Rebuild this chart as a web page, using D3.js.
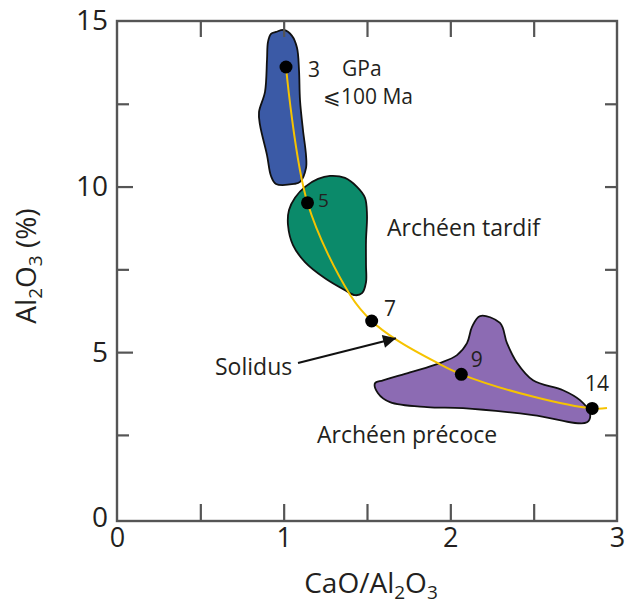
<!DOCTYPE html>
<html><head><meta charset="utf-8">
<script src="https://cdn.jsdelivr.net/npm/d3@7"></script>
<style>
body{margin:0;background:#fff;}
text{font-family:'Open Sans',sans-serif;fill:#231f20;}
</style>
</head><body>
<svg id="c" width="629" height="610"></svg>
<script>
// ---- data ----
const xTickLabels=[0,1,2,3];
const yTickLabels=[0,5,10,15];
const xMinorTicks=[0.5,1,1.5,2,2.5];
const yMinorTicks=[2.5,5,7.5,10,12.5];

const blueX=[0.954,1.002,1.050,1.080,1.092,1.098,1.116,1.134,1.134,1.098,1.062,0.954,0.924,0.900,0.858,0.852,0.888,0.900,0.906,0.924];
const blueY=[14.67,14.73,14.55,14.19,13.52,12.61,11.70,10.95,10.56,10.14,10.08,10.08,10.32,10.95,11.86,12.25,12.86,13.83,14.37,14.61];

const greenX=[1.278,1.368,1.440,1.488,1.500,1.494,1.494,1.494,1.470,1.428,1.368,1.248,1.128,1.056,1.026,1.032,1.068,1.128,1.206];
const greenY=[10.32,10.26,9.99,9.66,9.13,8.38,7.63,7.11,6.78,6.72,6.87,7.23,7.72,8.23,8.84,9.29,9.66,9.99,10.23];

const purpleX=[2.178,2.298,2.340,2.400,2.496,2.676,2.778,2.838,2.820,2.496,2.076,1.860,1.638,1.566,1.548,1.596,1.758,1.938,2.040,2.100,2.130];
const purpleY=[6.09,5.88,5.27,4.68,4.15,3.85,3.55,3.16,2.88,3.10,3.31,3.34,3.49,3.76,4.06,4.15,4.39,4.67,4.91,5.27,5.76];

const solidusX=[1.014,1.143,1.40,1.528,1.68,1.92,2.066,2.50,2.851,2.94];
const solidusY=[13.61,9.51,6.72,5.94,5.36,4.68,4.33,3.65,3.30,3.31];

const pressureX=[1.014,1.143,1.528,2.066,2.851];
const pressureY=[13.61,9.51,5.94,4.33,3.30];
const pressureLabels=["3","5","7","9","14"];
const pressureLabelX=[1.146,1.206,1.602,2.122,2.808];
const pressureLabelY=[13.31,9.37,6.09,4.55,3.82];

const noteTexts=["GPa","\u2A7D100 Ma","Solidus"];
const noteX=[1.35,1.236,0.588];
const noteY=[13.34,12.49,4.30];

const regionNames=["Archéen tardif","Archéen précoce"];
const regionLabelX=[1.62,1.20];
const regionLabelY=[8.51,2.25];

const arrowX=[1.086,1.674];
const arrowY=[4.67,5.42];

// ---- chart ----
const svg=d3.select("#c");
const x=d3.scaleLinear().domain([0,3]).range([117,617]);
const y=d3.scaleLinear().domain([-0.1,15]).range([521,21]);

svg.append("rect").attr("width",629).attr("height",610).attr("fill","#fff");

const defs=svg.append("defs");
defs.append("marker").attr("id","arr").attr("viewBox","0 0 10 10")
  .attr("refX",10).attr("refY",5).attr("markerWidth",8).attr("markerHeight",6.5)
  .attr("markerUnits","strokeWidth").attr("orient","auto")
  .append("path").attr("d","M0,0 L10,5 L0,10 z").attr("fill","#111");

// regions
const area=d3.line().x(d=>x(d[0])).y(d=>y(d[1])).curve(d3.curveCatmullRomClosed.alpha(0.5));
const regions=[
  {xs:blueX,ys:blueY,fill:"#3b5aa6"},
  {xs:greenX,ys:greenY,fill:"#0b8a6a"},
  {xs:purpleX,ys:purpleY,fill:"#8c6bb3"}
];
regions.forEach(r=>{
  svg.append("path").attr("d",area(r.xs.map((v,i)=>[v,r.ys[i]])))
    .attr("fill",r.fill).attr("stroke","#111").attr("stroke-width",1.8).attr("stroke-linejoin","round");
});

// solidus
const line=d3.line().x(d=>x(d[0])).y(d=>y(d[1])).curve(d3.curveCatmullRom.alpha(0.5));
svg.append("path").attr("d",line(solidusX.map((v,i)=>[v,solidusY[i]])))
  .attr("fill","none").attr("stroke","#f6c300").attr("stroke-width",2);

// points
svg.selectAll("circle.p").data(pressureX).enter().append("circle")
  .attr("cx",d=>x(d)).attr("cy",(d,i)=>y(pressureY[i])).attr("r",6.5).attr("fill","#000");

// point labels
svg.selectAll("text.pl").data(pressureLabels).enter().append("text")
  .attr("x",(d,i)=>x(pressureLabelX[i])).attr("y",(d,i)=>y(pressureLabelY[i]))
  .attr("font-size",(d,i)=>i===1?19:21).text(d=>d);

// notes
svg.selectAll("text.n").data(noteTexts).enter().append("text")
  .attr("x",(d,i)=>x(noteX[i])).attr("y",(d,i)=>y(noteY[i]))
  .attr("font-size",(d,i)=>i===2?23:21).text(d=>d);

// region labels
svg.selectAll("text.r").data(regionNames).enter().append("text")
  .attr("x",(d,i)=>x(regionLabelX[i])).attr("y",(d,i)=>y(regionLabelY[i]))
  .attr("font-size",23).text(d=>d);

// arrow
svg.append("line").attr("x1",x(arrowX[0])).attr("y1",y(arrowY[0]))
  .attr("x2",x(arrowX[1])).attr("y2",y(arrowY[1]))
  .attr("stroke","#111").attr("stroke-width",2).attr("marker-end","url(#arr)");

// frame + ticks
const axColor="#555";
svg.append("rect").attr("x",x(0)).attr("y",y(15)).attr("width",x(3)-x(0)).attr("height",y(-0.1)-y(15))
  .attr("fill","none").attr("stroke",axColor).attr("stroke-width",2.4);

function tickAxis(gen,tx,ty,vals,size){
  const g=svg.append("g").attr("transform",`translate(${tx},${ty})`)
   .call(gen.tickValues(vals).tickSize(size).tickFormat(""));
  g.select(".domain").remove();
  g.selectAll(".tick line").attr("stroke",axColor).attr("stroke-width",2.2);
}
tickAxis(d3.axisBottom(x),0,y(-0.1),xMinorTicks,-17);
tickAxis(d3.axisTop(x),0,y(15),xMinorTicks,-16);
tickAxis(d3.axisLeft(y),x(0),0,yMinorTicks.filter(v=>v%5!==0),-12);
tickAxis(d3.axisLeft(y),x(0),0,yMinorTicks.filter(v=>v%5===0),-16);
tickAxis(d3.axisRight(y),x(3),0,yMinorTicks,-12);

// tick labels
const xl=svg.append("g").attr("transform",`translate(0,${y(-0.1)})`)
  .call(d3.axisBottom(x).tickValues(xTickLabels).tickSize(0).tickPadding(7).tickFormat(d3.format("d")));
xl.select(".domain").remove();
xl.selectAll("text").attr("font-size",27).attr("font-family","'Open Sans',sans-serif").attr("fill","#231f20");

const yl=svg.append("g").attr("transform",`translate(${x(0)},0)`)
  .call(d3.axisLeft(y).tickValues(yTickLabels).tickSize(0).tickPadding(9).tickFormat(d3.format("d")));
yl.select(".domain").remove();
yl.selectAll("text").attr("font-size",28).attr("font-family","'Open Sans',sans-serif").attr("fill","#231f20");

// axis titles
const xt=svg.append("text").attr("x",371).attr("y",593).attr("text-anchor","middle").attr("font-size",28);
xt.append("tspan").text("CaO/Al");
xt.append("tspan").attr("font-size",19).attr("dy",6).text("2");
xt.append("tspan").attr("dy",-6).text("O");
xt.append("tspan").attr("font-size",19).attr("dy",6).text("3");

const yt=svg.append("text").attr("transform","translate(36,266) rotate(-90)").attr("text-anchor","middle").attr("font-size",28);
yt.append("tspan").text("Al");
yt.append("tspan").attr("font-size",19).attr("dy",6).text("2");
yt.append("tspan").attr("dy",-6).text("O");
yt.append("tspan").attr("font-size",19).attr("dy",6).text("3");
yt.append("tspan").attr("dy",-6).text(" (%)");
</script>
</body></html>
